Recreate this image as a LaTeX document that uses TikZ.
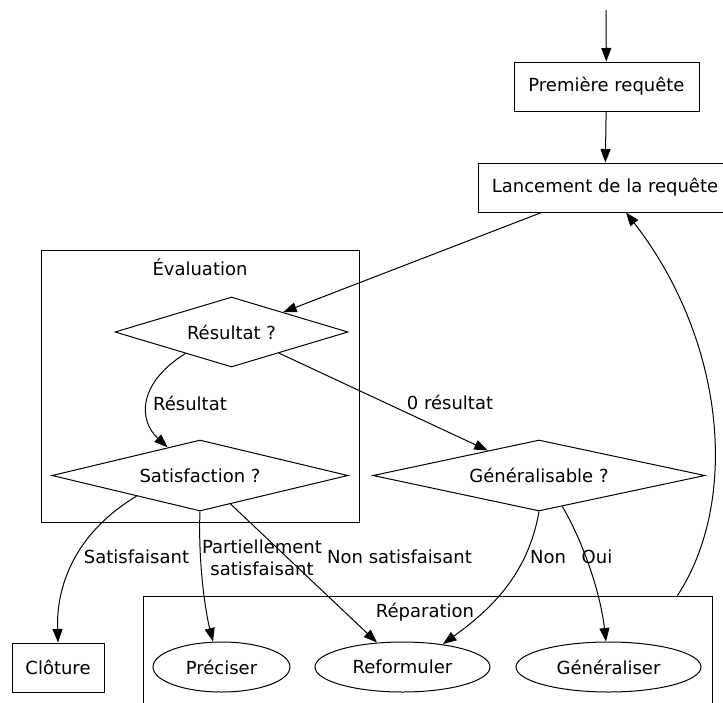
\documentclass[tikz,border=0pt]{standalone}
\usepackage{fontspec}
\setmainfont{DejaVu Sans}
\usetikzlibrary{shapes.geometric,arrows.meta}

\begin{document}
\begin{tikzpicture}[x=1pt,y=-1pt,line width=1pt,
  font=\fontsize{18}{22}\selectfont,
  box/.style={draw, rectangle, inner sep=0pt},
  dec/.style={draw, diamond, inner sep=0pt},
  oval/.style={draw, ellipse, inner sep=0pt, minimum height=50pt},
  cluster/.style={draw, rectangle, inner sep=0pt},
  lbl/.style={inner sep=0pt, align=center},
  conn/.style={draw, -{Triangle[length=13.5pt,width=10pt]}}
]
\useasboundingbox (0,0) rectangle (723,702);
\clip (0,0) rectangle (723,702);

% clusters
\node[cluster, minimum width=318pt, minimum height=272pt] (eval) at (200,386) {};
\node[lbl] (evallbl) at (200,267) {Évaluation};
\node[cluster, minimum width=569pt, minimum height=150pt] (rep) at (427.5,671) {};
\node[lbl] (replbl) at (425,612) {Réparation};

% nodes
\coordinate (start) at (606,10);
\node[box, minimum width=185pt, minimum height=49pt] (prem) at (606.5,86.5) {Première requête};
\node[box, minimum width=254pt, minimum height=49pt] (lanc) at (605,187.5) {Lancement de la requête};
\node[dec, shape aspect=3.33, minimum width=233pt, minimum height=70pt] (res) at (231.5,332) {Résultat ?};
\node[dec, shape aspect=4.17, minimum width=296pt, minimum height=71pt] (sat) at (200,475.5) {Satisfaction ?};
\node[dec, shape aspect=4.68, minimum width=332pt, minimum height=71pt] (gen) at (539,475.5) {Généralisable ?};
\node[box, minimum width=92pt, minimum height=49pt] (clo) at (58,667.5) {Clôture};
\node[oval, minimum width=137pt] (pre) at (221.5,667) {Préciser};
\node[oval, minimum width=175pt] (ref) at (402.5,667) {Reformuler};
\node[oval, minimum width=185pt] (gnl) at (608.5,667) {Généraliser};

% connectors
\draw[conn] (start) -- (prem);
\draw[conn] (prem) -- (lanc);
\draw[conn] ([xshift=64pt]lanc.south west) -- (res.21.4);
\draw[conn] (res.205.6) .. controls (138,383) and (138,420) .. (sat.139);
\draw[conn] (res.-24) -- (gen.154.8);
\draw[conn] (sat.198) .. controls (80,530) and (56,580) .. (clo.north);
\draw[conn] (sat.south) .. controls (198,560) and (205,610) .. ([xshift=-8.5pt]pre.north);
\draw[conn] (sat.-43.5) -- ([xshift=-25.5pt,yshift=-1pt]ref.north);
\draw[conn] (gen.south) .. controls (528,575) and (490,610) .. ([xshift=40.5pt,yshift=-2.5pt]ref.north);
\draw[conn] (gen.-53) .. controls (582,540) and (600,590) .. ([xshift=-2.5pt]gnl.north);
\draw[conn] ([xshift=-35pt]rep.north east) .. controls (740,500) and (725,340) .. ([xshift=21pt]lanc.south);

% connector labels
\node[lbl] (l1) at (190,403) {Résultat};
\node[lbl] (l2) at (450,402) {0 résultat};
\node[lbl] (l3) at (136.5,557) {Satisfaisant};
\node[lbl] (l4) at (262,558) {Partiellement\\satisfaisant};
\node[lbl] (l5) at (399.5,557) {Non satisfaisant};
\node[lbl] (l6) at (548,557) {Non};
\node[lbl] (l7) at (597,557) {Oui};
\end{tikzpicture}
\end{document}
